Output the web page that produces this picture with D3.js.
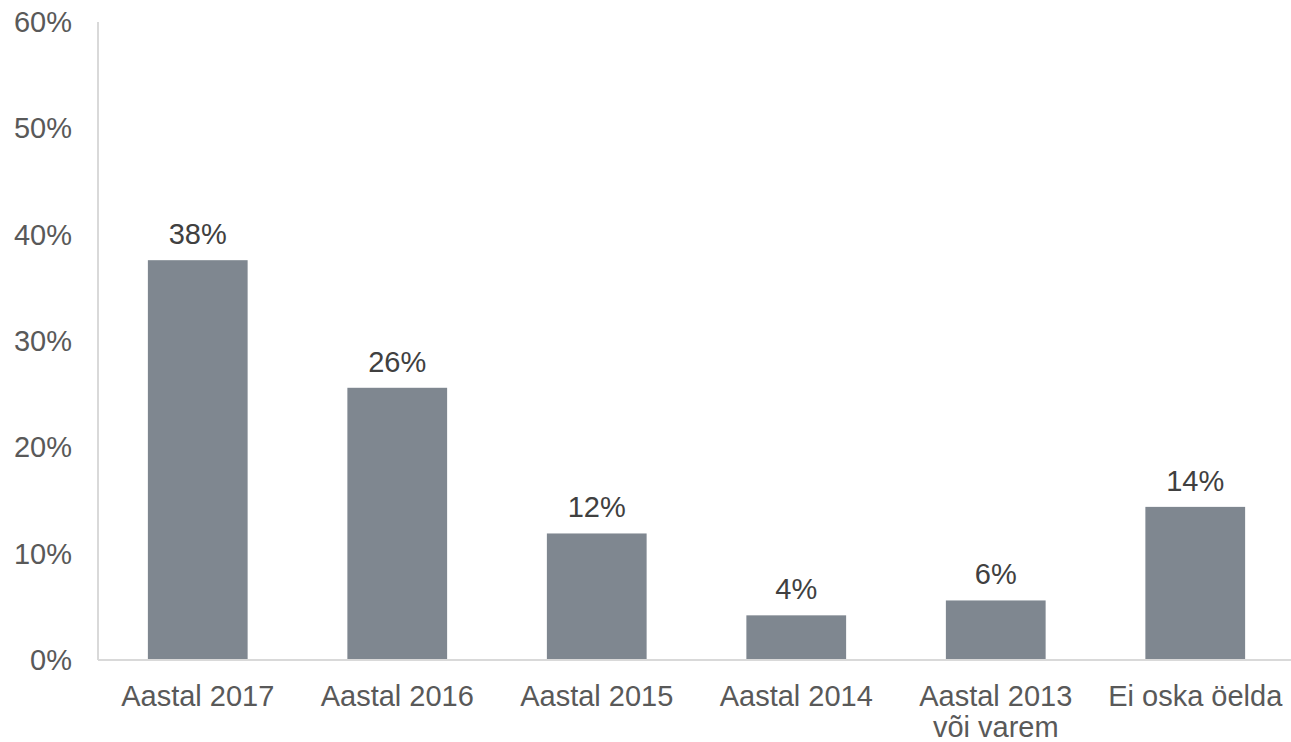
<!DOCTYPE html>
<html>
<head>
<meta charset="utf-8">
<script src="https://cdn.jsdelivr.net/npm/d3@7"></script>
<style>
body { margin: 0; background: #fff; }
text { font-family: "Liberation Sans", Arial, sans-serif; }
</style>
</head>
<body>
<svg class="chart" width="1291" height="742"></svg>
<script>
// 回答の分類と割合
var categories = [["Aastal 2017"], ["Aastal 2016"], ["Aastal 2015"], ["Aastal 2014"], ["Aastal 2013", "või varem"], ["Ei oska öelda"]];
var values = [37.6, 25.6, 11.9, 4.2, 5.6, 14.4];
var labels = ["38%", "26%", "12%", "4%", "6%", "14%"];
var ticks = [0, 10, 20, 30, 40, 50, 60];

var barColor = "#7f8790";
var svg = d3.select('.chart');

var x = d3.scaleBand()
    .domain(d3.range(categories.length))
    .range([98, 1295])
    .paddingInner(0.5)
    .paddingOuter(0.25);
var y = d3.scaleLinear()
    .domain([0, 60])
    .range([660, 22]);

// 縦軸の線
svg.append("line")
    .attr("x1", 98).attr("x2", 98)
    .attr("y1", y(60)).attr("y2", y(0))
    .style("stroke", "#d9d9d9")
    .style("stroke-width", 2);

// 目盛りラベル
svg.selectAll(".tick")
    .data(ticks)
    .enter().append("text")
    .attr("class", "tick")
    .attr("x", 72)
    .attr("y", function(d){ return y(d); })
    .attr("dy", "0.35em")
    .style("text-anchor", "end")
    .style("font-size", "29px")
    .style("fill", "#595959")
    .text(function(d){ return d + "%"; });

// 棒
svg.selectAll(".bar")
    .data(values)
    .enter().append("rect")
    .attr("class", "bar")
    .attr("x", function(d, i){ return x(i); })
    .attr("width", x.bandwidth())
    .attr("y", function(d){ return y(d); })
    .attr("height", function(d){ return y(0) - y(d); })
    .attr("fill", barColor);

// 横軸の線
svg.append("line")
    .attr("x1", 98).attr("x2", 1291)
    .attr("y1", y(0)).attr("y2", y(0))
    .style("stroke", "#d9d9d9")
    .style("stroke-width", 2);

// 値ラベル
svg.selectAll(".val")
    .data(values)
    .enter().append("text")
    .attr("class", "val")
    .attr("x", function(d, i){ return x(i) + x.bandwidth() / 2; })
    .attr("y", function(d){ return y(d) - 16; })
    .style("text-anchor", "middle")
    .style("font-size", "29px")
    .style("fill", "#404040")
    .text(function(d, i){ return labels[i]; });

// カテゴリラベル
var cat = svg.selectAll(".cat")
    .data(categories)
    .enter().append("text")
    .attr("class", "cat")
    .attr("x", function(d, i){ return x(i) + x.bandwidth() / 2; })
    .attr("y", 706)
    .style("text-anchor", "middle")
    .style("font-size", "29px")
    .style("fill", "#595959");
cat.selectAll("tspan")
    .data(function(d){ return d; })
    .enter().append("tspan")
    .attr("x", function(){ return this.parentNode.getAttribute("x"); })
    .attr("dy", function(d, j){ return j == 0 ? 0 : 31; })
    .text(function(d){ return d; });
</script>
</body>
</html>
